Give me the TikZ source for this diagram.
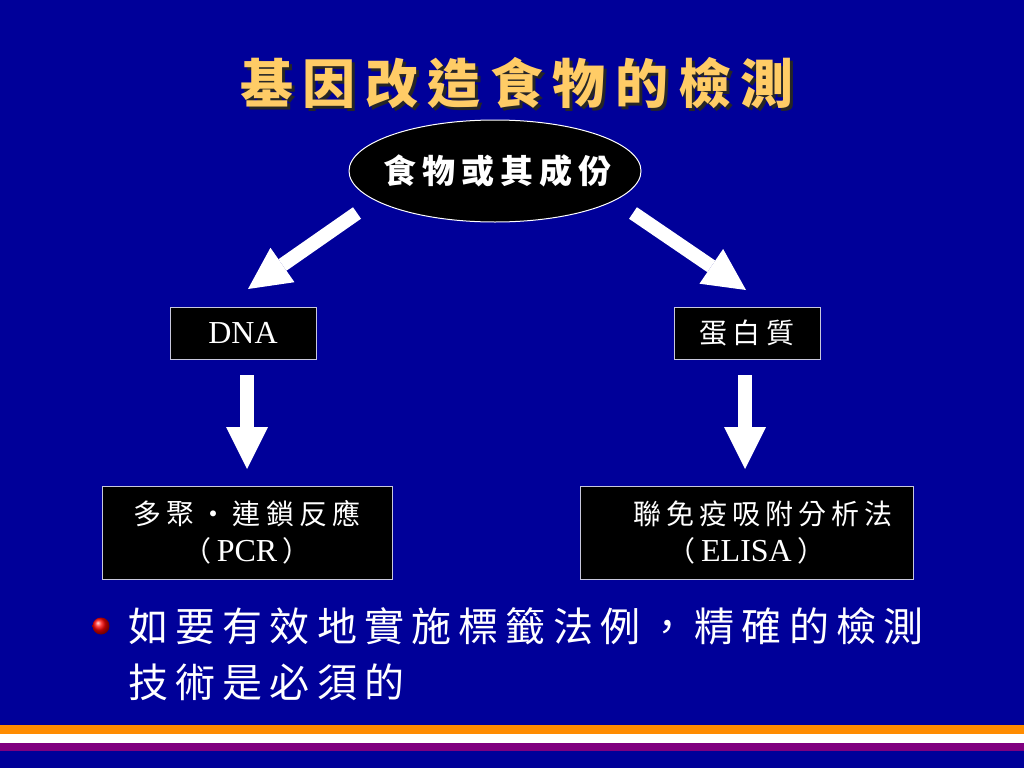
\documentclass[tikz,border=0pt]{standalone}
\usepackage{fontspec}
\setmainfont{Liberation Serif}
\newfontfamily\cjk[LetterSpace=18]{Noto Sans CJK TC}
\usetikzlibrary{arrows.meta,shapes.geometric}

\definecolor{slideblue}{RGB}{0,0,153}
\definecolor{titlegold}{RGB}{255,204,102}
\definecolor{stripeorange}{RGB}{255,140,0}
\definecolor{stripepurple}{RGB}{128,0,128}
\definecolor{boxline}{RGB}{200,200,220}

\newcommand{\boxzh}[1]{{\cjk\fontsize{28}{37}\selectfont #1}}

\begin{document}
\begin{tikzpicture}[x=1pt, y=-1pt, >={Triangle[width=42pt,length=42pt,line width=0pt]}]
\useasboundingbox (0,0) rectangle (1024,768);
\begin{scope}[]
    \fill[slideblue] (0,0) rectangle (1024,768);
    \fill[stripeorange] (0,725) rectangle (1024,734);
    \fill[white] (0,734) rectangle (1024,743);
    \fill[stripepurple] (0,743) rectangle (1024,751);
\end{scope}

\begin{scope}[every node/.style={inner sep=0pt, font=\cjk\bfseries\fontsize{53}{53}\selectfont}]
    \node[text=black!85] (title-shadow) at (520,86) {基因改造食物的檢測};
    \node[text=titlegold] (title) at (517,83) {基因改造食物的檢測};
\end{scope}

\begin{scope}[every node/.style={fill=black, draw=boxline, text=white, line width=1pt, inner sep=0pt}]
    \node[ellipse, draw=white, minimum width=292pt, minimum height=102pt, font=\cjk\bfseries\fontsize{33}{33}\selectfont] (food) at (495,171) {\makebox[0pt]{\hspace{5pt}食物或其成份}};
    \node[minimum width=146pt, minimum height=52pt, font=\fontsize{32}{32}\selectfont] (dna) at (243,333) {DNA};
    \node[minimum width=146pt, minimum height=52pt] (protein) at (747,333) {\boxzh{蛋白質}};
    \node[minimum width=290pt, minimum height=93pt, align=center, font=\fontsize{32}{37}\selectfont] (pcr) at (247,532.5) {\boxzh{多聚・連鎖反應}\\\boxzh{（}\,PCR\,\boxzh{）}};
    \node[minimum width=333pt, minimum height=93pt, align=center, font=\fontsize{32}{37}\selectfont] (elisa) at (746.5,532.5) {\boxzh{　聯免疫吸附分析法}\\\boxzh{（}\,ELISA\,\boxzh{）}};
\end{scope}

\begin{scope}[white, line width=14pt]
    \coordinate (food-l) at (357,213);
    \coordinate (dna-in) at (248,289);
    \coordinate (food-r) at (633,213);
    \coordinate (protein-in) at (746,290);
    \coordinate (dna-out) at (247,375);
    \coordinate (pcr-in) at (247,469);
    \coordinate (protein-out) at (745,375);
    \coordinate (elisa-in) at (745,469);
    \path [->] (food-l) edge (dna-in);
    \path [->] (food-r) edge (protein-in);
    \path [->] (dna-out) edge (pcr-in);
    \path [->] (protein-out) edge (elisa-in);
\end{scope}

\begin{scope}[]
    \node[circle, inner sep=0pt, minimum size=17pt, ball color=red] (bullet) at (101,626) {};
    \node[anchor=west, align=left, text=white, inner sep=0pt, font=\cjk\fontsize{40}{56}\selectfont] (note) at (128,654) {如要有效地實施標籤法例，精確的檢測\\技術是必須的};
\end{scope}
\end{tikzpicture}
\end{document}
